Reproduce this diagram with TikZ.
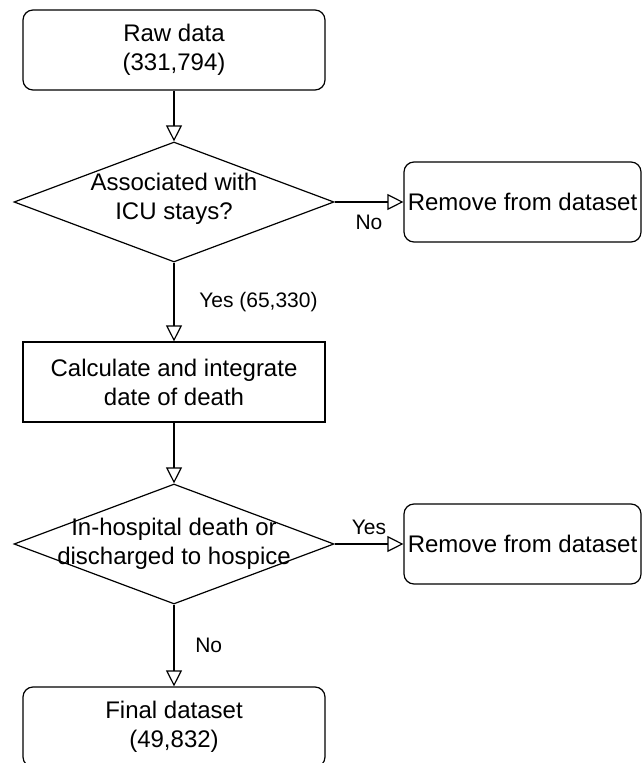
\documentclass[tikz,border=0pt]{standalone}
\usepackage{fontspec}
\setmainfont{Liberation Sans}
\usetikzlibrary{shapes.geometric, arrows.meta}

\begin{document}
\begin{tikzpicture}[x=0.5pt, y=-0.5pt,
    every node/.style={font=\fontsize{12}{14.5}\selectfont},
    roundbox/.style={draw, rounded corners=5pt, line width=0.6pt, minimum width=151pt, minimum height=40pt, inner sep=1pt, align=center},
    plainbox/.style={draw, line width=0.6pt, minimum width=151pt, minimum height=40pt, inner sep=1pt, align=center},
    dropbox/.style={roundbox, minimum width=118.5pt},
    decision/.style={draw, diamond, line width=0.6pt, minimum width=160pt, minimum height=60pt, inner sep=0pt},
    answer/.style={font=\fontsize{10.5}{12.5}\selectfont},
    flow/.style={draw, line width=0.6pt, -{Triangle[open, length=8pt, width=8pt]}}]
  \useasboundingbox (0,0) rectangle (642,763);
  \def\midX{174}\def\dropX{522.5}
  % main column
  \node[roundbox] (raw) at (\midX,50) {Raw data\\(331,794)};
  \node[decision] (assoc) at (\midX,202) {};
  \node[align=center] at (\midX,199) {Associated with\\ICU stays?};
  \node[plainbox] (calc) at (\midX,382) {Calculate and integrate\\date of death};
  \node[decision] (hosp) at (\midX,544) {};
  \node[align=center] at (hosp) {In-hospital death or\\discharged to hospice};
  \node[roundbox] (final) at (\midX,727) {Final dataset\\(49,832)};
  % removed records
  \node[dropbox] (dropicu) at (\dropX,202) {Remove from dataset};
  \node[dropbox] (drophosp) at (\dropX,544) {Remove from dataset};
  % connectors
  \draw[flow] (raw) -- (assoc);
  \draw[flow] (assoc.east) -- node[answer, below=3pt] {No} (dropicu);
  \draw[flow] (assoc.south) -- node[answer, right=9pt] {Yes (65,330)} (calc);
  \draw[flow] (calc) -- (hosp.north);
  \draw[flow] (hosp.east) -- node[answer, above=1pt] {Yes} (drophosp);
  \draw[flow] (hosp.south) -- node[answer, right=7pt] {No} (final);
\end{tikzpicture}
\end{document}
